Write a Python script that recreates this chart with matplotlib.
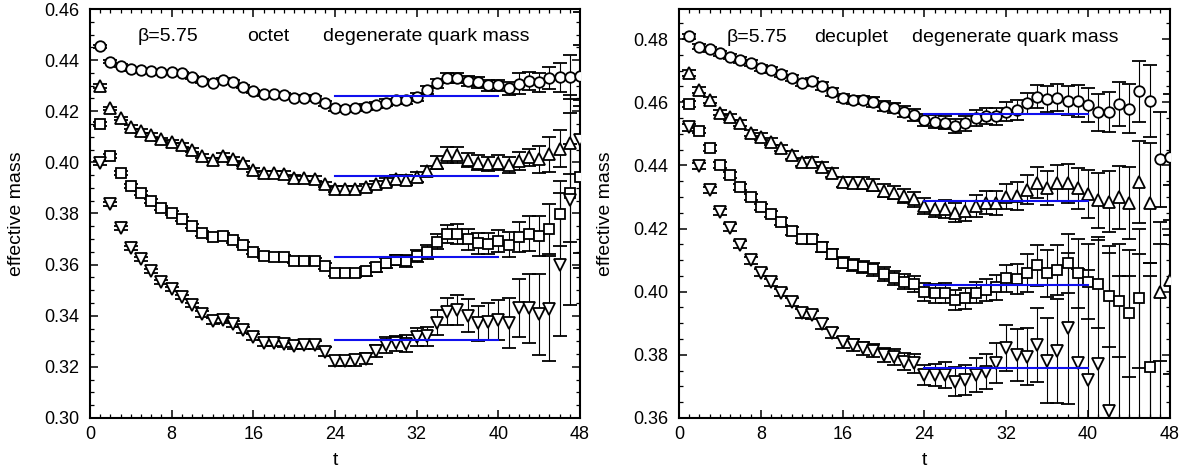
import numpy as np
import matplotlib
matplotlib.use('Agg')
import matplotlib.pyplot as plt
from matplotlib.ticker import MultipleLocator, FormatStrFormatter

plt.rcParams['font.family'] = ['Liberation Sans', 'DejaVu Sans']

# ---------------- data ----------------
t = np.arange(1, 49)
nan = np.nan

# octet (left panel)
oct_circ = [0.4455, 0.4394, 0.4378, 0.4365, 0.4361, 0.4357, 0.4352, 0.4352, 0.4348, 0.4333,
            0.4318, 0.4312, 0.4322, 0.4314, 0.4296, 0.4278, 0.4267, 0.4266, 0.4264, 0.4253,
            0.4253, 0.4250, 0.4231, 0.4211, 0.4209, 0.4211, 0.4218, 0.4223, 0.4233, 0.4244,
            0.4244, 0.4257, 0.4283, 0.4309, 0.4331, 0.4331, 0.4319, 0.4313, 0.4301, 0.4302,
            0.4290, 0.4308, 0.4320, 0.4314, 0.4330, 0.4333, 0.4333, 0.4339]
oct_circ_err = [0.0006] * 10 + [0.0007] * 10 + [0.0009, 0.0009, 0.0010, 0.0010, 0.0011, 0.0011, 0.0012, 0.0012, 0.0013, 0.0014,
                0.0015, 0.0016, 0.0017, 0.0018, 0.0019, 0.0020, 0.0020, 0.0021, 0.0022, 0.0022,
                0.0026, 0.0040, 0.0035, 0.0037, 0.0042, 0.0056, 0.0087, 0.0120]

oct_tri = [0.4299, 0.4211, 0.4172, 0.4138, 0.4123, 0.4107, 0.4090, 0.4081, 0.4068, 0.4048,
           0.4025, 0.4009, 0.4026, 0.4012, 0.3996, 0.3970, 0.3957, 0.3957, 0.3956, 0.3940,
           0.3938, 0.3936, 0.3914, 0.3896, 0.3896, 0.3896, 0.3902, 0.3914, 0.3924, 0.3934,
           0.3931, 0.3944, 0.3967, 0.3999, 0.4029, 0.4029, 0.4009, 0.3999, 0.3993, 0.3999,
           0.3990, 0.4006, 0.4020, 0.4012, 0.4032, 0.4053, 0.4075, nan]
oct_tri_err = [0.0007] * 10 + [0.0009] * 10 + [0.0010, 0.0010, 0.0011, 0.0012, 0.0012, 0.0013, 0.0014, 0.0015, 0.0016, 0.0017,
               0.0018, 0.0019, 0.0020, 0.0026, 0.0030, 0.0030, 0.0028, 0.0028, 0.0028, 0.0028,
               0.0030, 0.0035, 0.0034, 0.0052, 0.0068, 0.0072, 0.0120, nan]

oct_sq = [0.4149, 0.4026, 0.3957, 0.3908, 0.3881, 0.3849, 0.3820, 0.3801, 0.3778, 0.3752,
          0.3722, 0.3709, 0.3712, 0.3696, 0.3677, 0.3650, 0.3634, 0.3631, 0.3628, 0.3615,
          0.3615, 0.3614, 0.3595, 0.3568, 0.3568, 0.3568, 0.3574, 0.3589, 0.3607, 0.3618,
          0.3614, 0.3634, 0.3650, 0.3690, 0.3720, 0.3720, 0.3699, 0.3683, 0.3682, 0.3691,
          0.3678, 0.3709, 0.3721, 0.3712, 0.3738, 0.3799, 0.3880, 0.3944]
oct_sq_err = [0.0008] * 10 + [0.0010] * 10 + [0.0012, 0.0012, 0.0013, 0.0014, 0.0015, 0.0016, 0.0017, 0.0018, 0.0019, 0.0020,
              0.0022, 0.0024, 0.0027, 0.0030, 0.0035, 0.0038, 0.0040, 0.0041, 0.0042, 0.0043,
              0.0050, 0.0059, 0.0068, 0.0077, 0.0098, 0.0127, 0.0190, 0.0300]

oct_dtri = [0.3996, 0.3837, 0.3742, 0.3664, 0.3621, 0.3576, 0.3533, 0.3503, 0.3474, 0.3442,
            0.3407, 0.3381, 0.3383, 0.3368, 0.3344, 0.3316, 0.3294, 0.3292, 0.3290, 0.3281,
            0.3285, 0.3285, 0.3259, 0.3224, 0.3224, 0.3226, 0.3232, 0.3262, 0.3285, 0.3292,
            0.3291, 0.3318, 0.3320, 0.3373, 0.3416, 0.3422, 0.3400, 0.3371, 0.3377, 0.3385,
            0.3370, 0.3430, 0.3430, 0.3405, 0.3428, 0.3600, 0.3853, 0.4087]
oct_dtri_err = [0.0008] * 10 + [0.0012] * 10 + [0.0015, 0.0016, 0.0018, 0.0020, 0.0020, 0.0021, 0.0022, 0.0025, 0.0030, 0.0028,
                0.0032, 0.0035, 0.0037, 0.0050, 0.0053, 0.0060, 0.0065, 0.0068, 0.0073, 0.0078,
                0.0098, 0.0114, 0.0135, 0.0160, 0.0205, 0.0280, 0.0410, 0.0500]

oct_fit = [0.4260, 0.3948, 0.3631, 0.3305]

# decuplet (right panel)
dec_circ = [0.4809, 0.4776, 0.4767, 0.4755, 0.4744, 0.4734, 0.4723, 0.4709, 0.4702, 0.4689,
            0.4676, 0.4660, 0.4667, 0.4651, 0.4633, 0.4612, 0.4607, 0.4607, 0.4601, 0.4588,
            0.4581, 0.4570, 0.4559, 0.4544, 0.4538, 0.4535, 0.4524, 0.4533, 0.4549, 0.4556,
            0.4555, 0.4570, 0.4575, 0.4596, 0.4617, 0.4610, 0.4614, 0.4605, 0.4604, 0.4591,
            0.4568, 0.4570, 0.4593, 0.4579, 0.4634, 0.4604, 0.4419, 0.4427]
dec_circ_err = [0.0008] * 5 + [0.0009] * 5 + [0.0010, 0.0010, 0.0011, 0.0012, 0.0012, 0.0013, 0.0013, 0.0014, 0.0015, 0.0015,
                0.0016, 0.0017, 0.0018, 0.0019, 0.0020, 0.0021, 0.0022, 0.0024, 0.0025, 0.0026,
                0.0028, 0.0030, 0.0032, 0.0034, 0.0037, 0.0040, 0.0043, 0.0046, 0.0050, 0.0053,
                0.0058, 0.0063, 0.0070, 0.0077, 0.0097, 0.0114, 0.0150, 0.0200]

dec_tri = [0.4693, 0.4639, 0.4607, 0.4567, 0.4554, 0.4533, 0.4503, 0.4491, 0.4475, 0.4454,
           0.4433, 0.4411, 0.4412, 0.4396, 0.4377, 0.4348, 0.4345, 0.4344, 0.4338, 0.4320,
           0.4313, 0.4303, 0.4292, 0.4271, 0.4261, 0.4261, 0.4250, 0.4256, 0.4271, 0.4282,
           0.4280, 0.4301, 0.4303, 0.4322, 0.4345, 0.4329, 0.4344, 0.4343, 0.4327, 0.4309,
           0.4289, 0.4285, 0.4299, 0.4280, 0.4348, 0.4282, 0.4000, 0.4038]
dec_tri_err = [0.0009] * 5 + [0.0010] * 5 + [0.0012, 0.0012, 0.0013, 0.0014, 0.0015, 0.0016, 0.0017, 0.0018, 0.0019, 0.0020,
               0.0021, 0.0022, 0.0023, 0.0025, 0.0026, 0.0028, 0.0030, 0.0032, 0.0034, 0.0036,
               0.0038, 0.0040, 0.0043, 0.0046, 0.0050, 0.0054, 0.0058, 0.0062, 0.0066, 0.0077,
               0.0087, 0.0097, 0.0100, 0.0114, 0.0130, 0.0190, 0.0220, 0.0300]

dec_sq = [0.4594, 0.4510, 0.4454, 0.4401, 0.4369, 0.4332, 0.4299, 0.4267, 0.4246, 0.4222,
          0.4192, 0.4166, 0.4166, 0.4142, 0.4119, 0.4092, 0.4084, 0.4077, 0.4071, 0.4056,
          0.4044, 0.4031, 0.4024, 0.4000, 0.3995, 0.3995, 0.3974, 0.3979, 0.3997, 0.4005,
          0.4014, 0.4042, 0.4041, 0.4058, 0.4084, 0.4058, 0.4069, 0.4090, 0.4058, 0.4032,
          0.4024, 0.3985, 0.3972, 0.3931, 0.3979, 0.3762, nan, nan]
dec_sq_err = [0.0009] * 5 + [0.0010] * 5 + [0.0012, 0.0013, 0.0014, 0.0015, 0.0016, 0.0017, 0.0018, 0.0019, 0.0020, 0.0021,
              0.0022, 0.0024, 0.0026, 0.0028, 0.0030, 0.0031, 0.0032, 0.0033, 0.0034, 0.0036,
              0.0040, 0.0044, 0.0047, 0.0060, 0.0065, 0.0075, 0.0080, 0.0093, 0.0110, 0.0120,
              0.0140, 0.0160, 0.0180, 0.0200, 0.0220, 0.0330, nan, nan]

dec_dtri = [0.4520, 0.4398, 0.4322, 0.4253, 0.4203, 0.4148, 0.4100, 0.4060, 0.4030, 0.3997,
            0.3968, 0.3931, 0.3926, 0.3897, 0.3868, 0.3840, 0.3831, 0.3821, 0.3813, 0.3800,
            0.3794, 0.3778, 0.3773, 0.3736, 0.3736, 0.3736, 0.3715, 0.3720, 0.3736, 0.3747,
            0.3773, 0.3821, 0.3800, 0.3794, 0.3831, 0.3782, 0.3812, 0.3884, 0.3773, 0.3719,
            0.3772, 0.3621, 0.3550, 0.3500, 0.3520, 0.3450, 0.3500, 0.3480]
dec_dtri_err = [0.0010] * 5 + [0.0011] * 5 + [0.0012, 0.0013, 0.0014, 0.0015, 0.0016, 0.0017, 0.0018, 0.0020, 0.0021, 0.0023,
                0.0025, 0.0027, 0.0030, 0.0032, 0.0035, 0.0040, 0.0045, 0.0048, 0.0053, 0.0056,
                0.0063, 0.0073, 0.0082, 0.0090, 0.0116, 0.0135, 0.0166, 0.0240, 0.0300, 0.0350,
                0.0400, 0.0500, 0.0500, 0.0550, 0.0600, 0.0600, 0.0650, 0.0700]

dec_fit = [0.4563, 0.4288, 0.4022, 0.3758]

fit_range = [24, 40]
x_ticks = [0, 8, 16, 24, 32, 40, 48]

# ---------------- figure ----------------
fig = plt.figure(figsize=(11.86, 4.70), dpi=100)
axL = fig.add_axes([90 / 1186, 52 / 470, 490 / 1186, 409 / 470])
axR = fig.add_axes([679 / 1186, 52 / 470, 491 / 1186, 409 / 470])

markers = [('o', 7.6), ('^', 8.0), ('s', 6.8), ('v', 8.0)]


def draw_panel(ax, series, errs, fits, ylim, label2):
    for (mk, ms), vals, err in zip(markers, series, errs):
        ax.errorbar(t, np.array(vals, float), yerr=np.array(err, float), fmt=mk, ms=ms,
                    mfc='white', mec='black', mew=1.3, ecolor='black', elinewidth=0.8,
                    capsize=4.8, capthick=1.3, zorder=3)
    for f in fits:
        ax.plot(fit_range, [f, f], color='#1010ee', lw=1.5, zorder=6)
    ax.set_xlim(0, 48)
    ax.set_ylim(*ylim)
    ax.set_xticks(x_ticks)
    ax.xaxis.set_minor_locator(MultipleLocator(1))
    ax.yaxis.set_major_locator(MultipleLocator(0.02))
    ax.yaxis.set_minor_locator(MultipleLocator(0.005))
    ax.yaxis.set_major_formatter(FormatStrFormatter('%.2f'))
    ax.tick_params(which='both', direction='in', top=True, right=True, labelsize=13)
    ax.tick_params(which='major', length=6, width=1.1)
    ax.tick_params(which='minor', length=3, width=0.9)
    ax.tick_params(axis='y', pad=8)
    ax.tick_params(axis='x', pad=6)
    for s in ax.spines.values():
        s.set_linewidth(1.5)
    ax.set_xlabel('t', fontsize=14, va='center')
    ax.xaxis.set_label_coords(0.5, -0.103)
    ax.set_ylabel('effective mass', fontsize=14, va='center')
    ax.yaxis.set_label_coords(-0.149, 0.5)
    ytxt = ylim[1] - (ylim[1] - ylim[0]) * 28 / 409
    ax.text(4.7, ytxt, 'β=5.75', fontsize=14, va='center', ha='left')
    ax.text(label2[1], ytxt, label2[0], fontsize=14, va='center', ha='left')
    ax.text(22.8, ytxt, 'degenerate quark mass', fontsize=14, va='center', ha='left')


draw_panel(axL, [oct_circ, oct_tri, oct_sq, oct_dtri],
           [oct_circ_err, oct_tri_err, oct_sq_err, oct_dtri_err],
           oct_fit, (0.30, 0.46), ('octet', 15.4))
draw_panel(axR, [dec_circ, dec_tri, dec_sq, dec_dtri],
           [dec_circ_err, dec_tri_err, dec_sq_err, dec_dtri_err],
           dec_fit, (0.36, 0.4895), ('decuplet', 13.2))

fig.savefig('out.png', dpi=100)
